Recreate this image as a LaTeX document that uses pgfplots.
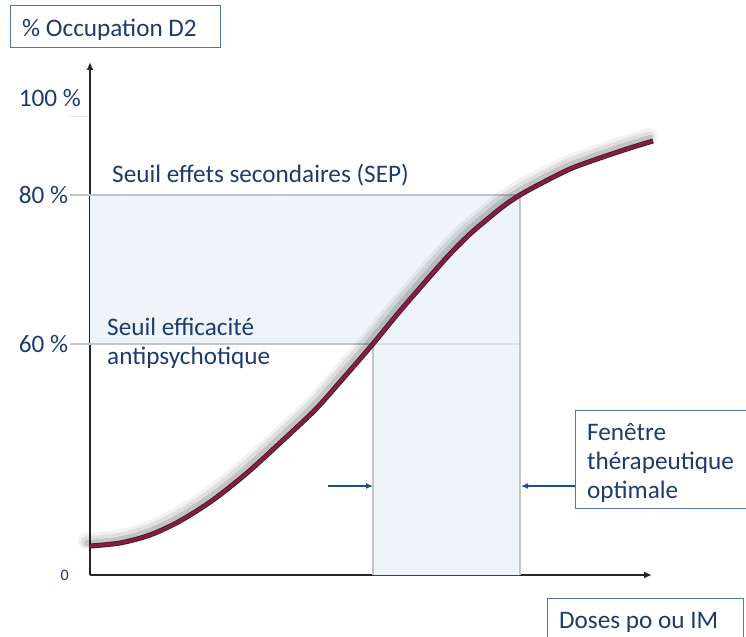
\documentclass[border=0pt]{standalone}
\usepackage{fontspec}
\setmainfont{Carlito}
\usepackage{pgfplots}
\usepackage{pgfplotstable}
\pgfplotsset{compat=1.18}
\usetikzlibrary{arrows.meta}
\definecolor{navy}{HTML}{1F3A6E}
\definecolor{boxc}{HTML}{5475A8}
\definecolor{arrc}{HTML}{1F4E8C}
\definecolor{fillc}{HTML}{EEF4F8}
\definecolor{gridc}{HTML}{C0C6CC}
\definecolor{gridb}{HTML}{D3E4EE}
\definecolor{maroon}{HTML}{7E2142}
\definecolor{maroond}{HTML}{5A1430}
\newcommand\fs{\fontsize{25.2bp}{29bp}\selectfont}
\pgfplotstableread{
x y
90 29
120 32
150 40
180 54
213 75
247 102
280 132
315 165
340 193
372 230
400 264
433 302
450 321
470 341
490 358
505 370
520 380
540 391
570 406
600 417
630 427
653 434
}\curve
\begin{document}
\begin{tikzpicture}
\begin{axis}[
  scale only axis, width=562bp, height=513bp,
  xmin=90, xmax=652, ymin=0, ymax=513,
  axis lines=left,
  axis line style={line width=1.6bp, black!85, -{Latex[length=8bp,width=7bp]}},
  xtick=\empty,
  ytick={0,231,380,477},
  yticklabels={\makebox[60bp][r]{\fontsize{16bp}{16bp}\selectfont 0\hspace*{10bp}},
               \makebox[60bp][l]{60 \%},
               \makebox[60bp][l]{80 \%},
               \makebox[60bp][l]{100 \%}},
  major tick length=0pt,
  yticklabel style={anchor=east, inner sep=0pt, xshift=-11bp, text=navy, font=\fs},
  clip=false,
]
% shaded window
\addplot[fill=fillc, draw=none, forget plot] coordinates {(90,380) (520,380) (520,0) (373,0) (373,231) (90,231)} -- cycle;
% threshold lines
\addplot[gridc, line width=1.1bp, forget plot] coordinates {(70,380) (520,380)};
\addplot[gridc, line width=1.1bp, forget plot] coordinates {(70,231) (373,231)};
\addplot[gridb, line width=1.1bp, forget plot] coordinates {(373,231) (520,231)};
\addplot[gridc, line width=1.1bp, forget plot] coordinates {(373,231) (373,0)};
\addplot[gridc, line width=1.1bp, forget plot] coordinates {(520,380) (520,0)};
\addplot[black!10, line width=1bp, forget plot] coordinates {(70,458) (88,458)};
% arrows
\addplot[arrc, line width=1.2bp, -{Latex[length=7bp,width=6bp]}, forget plot] coordinates {(328,89) (373,89)};
\addplot[arrc, line width=1.2bp, -{Latex[length=7bp,width=6bp]}, forget plot] coordinates {(577,89) (521,89)};
% curve shadow
\addplot[smooth, black, opacity=0.05, line width=16bp, line cap=round, xshift=-4bp, yshift=5bp, forget plot] table {\curve};
\addplot[smooth, black, opacity=0.08, line width=11bp, line cap=round, xshift=-4bp, yshift=4bp, forget plot] table {\curve};
\addplot[smooth, black, opacity=0.12, line width=6bp, line cap=round, xshift=-3bp, yshift=3bp, forget plot] table {\curve};
% curve
\addplot[smooth, maroond, line width=5bp, forget plot] table {\curve};
\addplot[smooth, maroon, line width=3bp, forget plot] table {\curve};
% texts
\node[anchor=base west, inner sep=0, text=navy, font=\fs] at (axis cs:112,392) {Seuil effets secondaires (SEP)};
\node[anchor=base west, inner sep=0, text=navy, font=\fs] at (axis cs:107,239) {Seuil efficacité};
\node[anchor=base west, inner sep=0, text=navy, font=\fs] at (axis cs:107,210) {antipsychotique};
\draw[boxc, line width=1bp] (axis cs:11,569) rectangle (axis cs:220,527);
\node[anchor=base west, inner sep=0, text=navy, font=\fs] at (axis cs:22,538) {\% Occupation D2};
\draw[boxc, line width=1bp, fill=white] (axis cs:575,164) rectangle (axis cs:748,66);
\node[anchor=base west, inner sep=0, text=navy, font=\fs] at (axis cs:587,134) {Fenêtre};
\node[anchor=base west, inner sep=0, text=navy, font=\fs] at (axis cs:587,105) {thérapeutique};
\node[anchor=base west, inner sep=0, text=navy, font=\fs] at (axis cs:587,77) {optimale};
\draw[boxc, line width=1bp] (axis cs:547,-23) rectangle (axis cs:743,-72);
\node[anchor=base west, inner sep=0, text=navy, font=\fs] at (axis cs:559,-53) {Doses po ou IM};
\coordinate (BL) at (axis cs:0,-62);
\coordinate (TR) at (axis cs:746,575);
\end{axis}
\pgfresetboundingbox
\path[use as bounding box] (BL) rectangle (TR);
\end{tikzpicture}
\end{document}
